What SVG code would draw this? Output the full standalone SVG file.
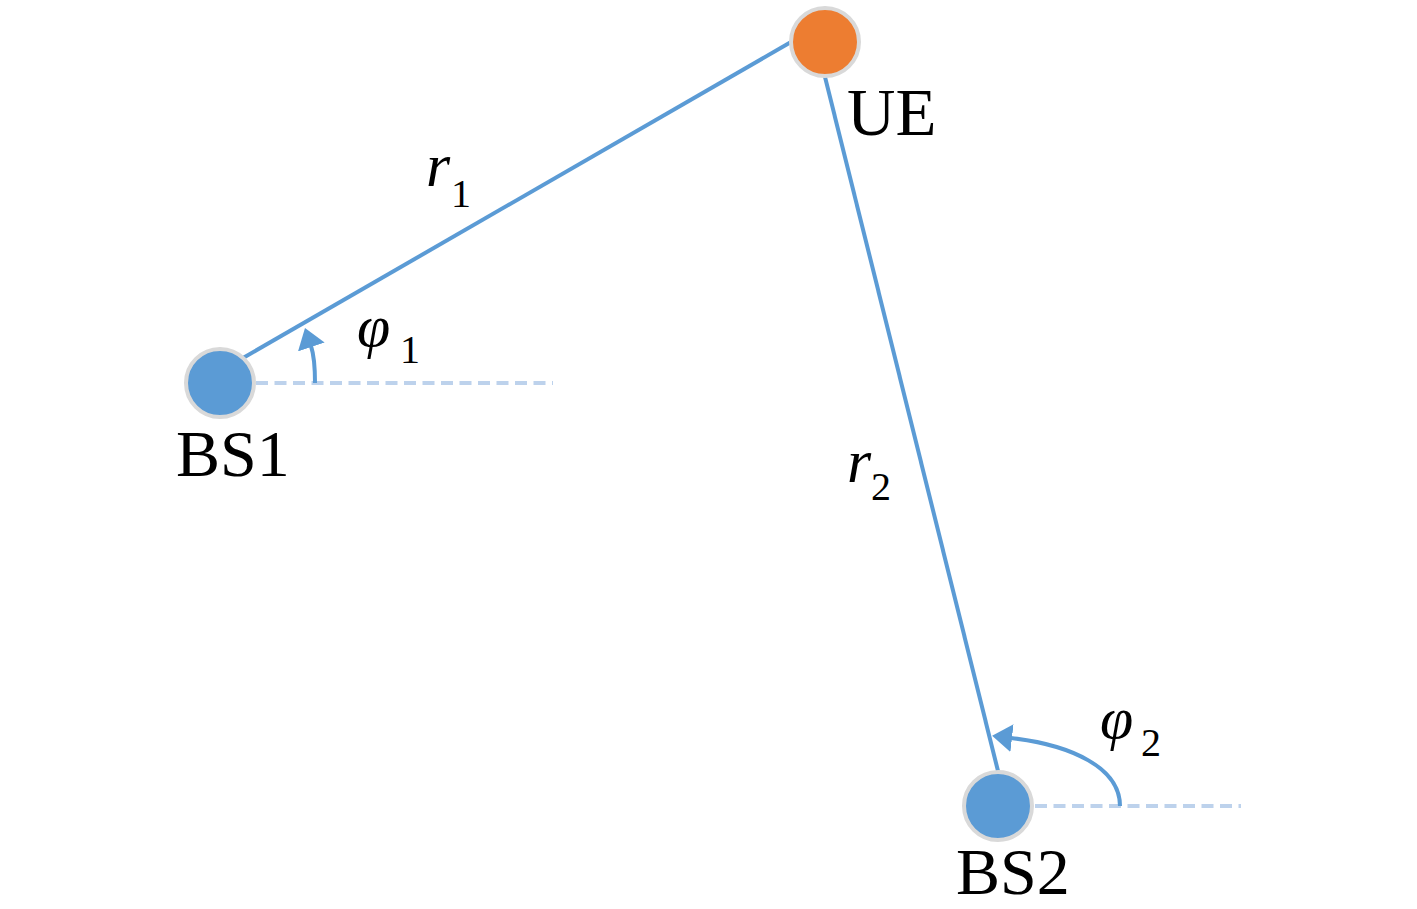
<svg xmlns="http://www.w3.org/2000/svg" width="1417" height="909" viewBox="0 0 1417 909">
<style>
.link{stroke:#5B9BD5;stroke-width:4;fill:none}
.ref{stroke:#BDD2EC;stroke-width:4;fill:none;stroke-dasharray:12 6.5}
.angle{stroke:#5B9BD5;stroke-width:4;fill:none;marker-end:url(#ah)}
.node{stroke:#D9D9D9;stroke-width:4}
.bs{fill:#5B9BD5}
.ue{fill:#ED7D31}
.lbl{fill:#000}
</style>
<defs>
<marker id="ah" markerUnits="userSpaceOnUse" markerWidth="20" markerHeight="28" refX="1" refY="14" orient="auto" viewBox="0 0 20 28">
<path d="M0,0 L20,14 L0,28 z" fill="#5B9BD5"/>
</marker>
</defs>
<rect width="1417" height="909" fill="#fff"/>
<g id="connectors">
<line class="link" x1="243" y1="358" x2="791" y2="42"/>
<line class="link" x1="825" y1="77" x2="998" y2="771"/>
<line class="ref" x1="256" y1="383" x2="553" y2="383"/>
<line class="ref" x1="1035" y1="806" x2="1241" y2="806"/>
<path id="angle1" class="angle" d="M315,383 C315,367 314,355 311,346"/>
<path id="angle2" class="angle" d="M1120,806 C1120,768 1072,745 1011,738"/>
</g>
<g font-family="'Liberation Serif', 'Times New Roman', serif">
<g id="UE">
<circle class="node ue" cx="825" cy="42" r="34"/>
<text class="lbl" x="847" y="135" font-size="67">UE</text>
</g>
<g id="BS1">
<circle class="node bs" cx="220" cy="383" r="34"/>
<text class="lbl" x="176" y="476" font-size="66">BS1</text>
</g>
<g id="BS2">
<circle class="node bs" cx="998" cy="806" r="34"/>
<text class="lbl" x="956" y="894" font-size="66">BS2</text>
</g>
<g id="labels">
<text class="lbl" x="426" y="186" font-size="62" font-style="italic">r</text>
<text class="lbl" x="451" y="207" font-size="40">1</text>
<text class="lbl" x="847" y="482" font-size="62" font-style="italic">r</text>
<text class="lbl" x="871" y="500" font-size="40">2</text>
<text class="lbl" x="357" y="346" font-size="60" font-style="italic">φ</text>
<text class="lbl" x="400" y="363" font-size="40">1</text>
<text class="lbl" x="1100" y="738" font-size="60" font-style="italic">φ</text>
<text class="lbl" x="1141" y="756" font-size="40">2</text>
</g>
</g>
</svg>
